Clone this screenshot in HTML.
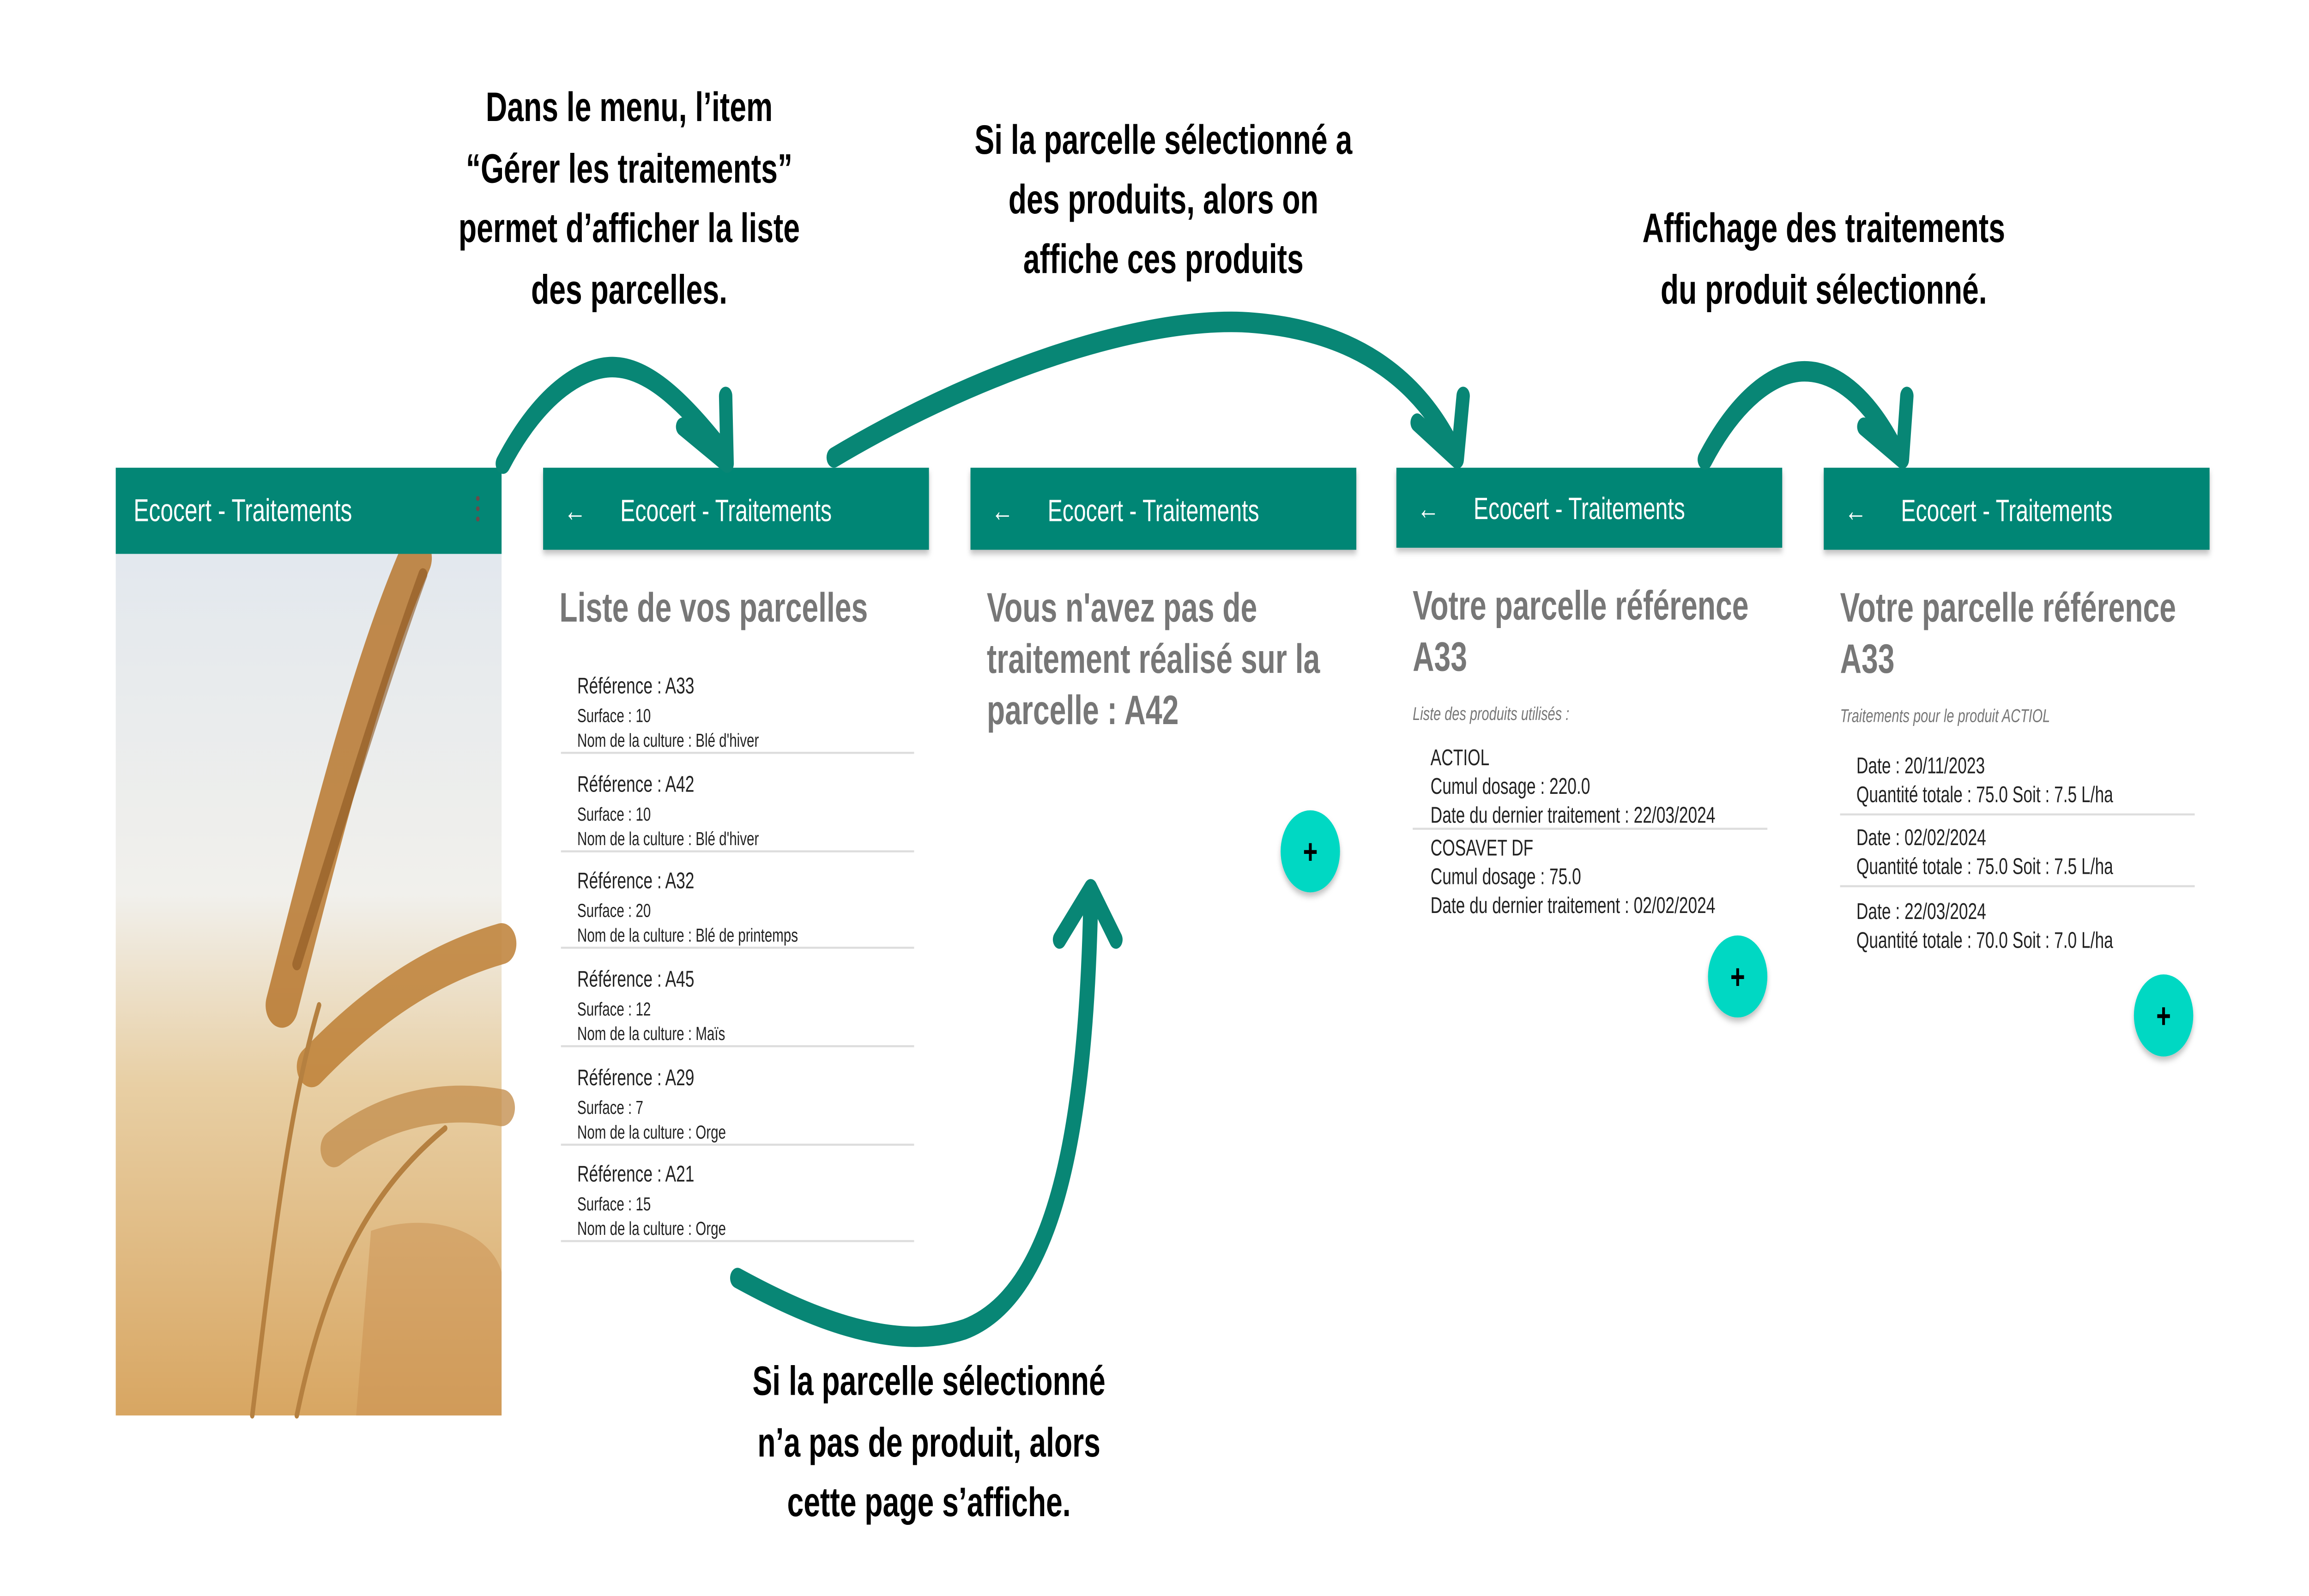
<!DOCTYPE html>
<html><head><meta charset="utf-8"><style>
html,body{margin:0;padding:0;background:#fff;width:100%;height:100%;overflow:hidden;}
svg{display:block;position:absolute;left:0;top:0;width:100vw;height:100vh}
text{font-family:"Liberation Sans",sans-serif;}
.lab{font-weight:bold;font-size:20px;fill:#000;text-anchor:middle}
.hd{fill:#fff;font-size:15px}
.ttl{fill:#777;font-weight:bold;font-size:20px}
.it{fill:#222;font-size:11px}
.sm{fill:#222;font-size:9.2px}
.arr{fill:none;stroke:#088675;stroke-linecap:round;stroke-linejoin:round}
</style></head><body>
<svg viewBox="0 0 1556 778" preserveAspectRatio="none" xmlns="http://www.w3.org/2000/svg">
<defs>
<linearGradient id="sky" x1="0" y1="0" x2="0" y2="1">
<stop offset="0" stop-color="#dfe6ee"/><stop offset="0.45" stop-color="#f1f0ec"/><stop offset="0.65" stop-color="#e8cfa4"/><stop offset="1" stop-color="#d8a662"/>
</linearGradient>
<filter id="sh" x="-20%" y="-20%" width="140%" height="160%"><feDropShadow dx="0" dy="2" stdDeviation="1.5" flood-opacity="0.25"/></filter>
</defs>
<!-- Screen 1 -->
<rect x="78" y="228" width="260" height="462" fill="url(#sky)"/>
<g stroke-linecap="round">
<path d="M190 490 C215 420 245 330 280 272" stroke="#b7772e" stroke-width="22" fill="none" opacity="0.85"/>
<path d="M200 470 C230 400 260 330 285 280" stroke="#8a5520" stroke-width="6" fill="none" opacity="0.6"/>
<path d="M210 520 C250 490 290 470 338 460" stroke="#bd7f35" stroke-width="20" fill="none" opacity="0.85"/>
<path d="M225 560 C260 540 300 535 338 540" stroke="#c49050" stroke-width="18" fill="none" opacity="0.8"/>
<path d="M170 690 C185 600 195 540 215 490" stroke="#b58040" stroke-width="3" fill="none"/>
<path d="M200 690 C220 620 250 580 300 550" stroke="#b58040" stroke-width="3" fill="none"/>
<path d="M250 600 C290 590 330 600 338 620 L338 690 L240 690 Z" fill="#c99050" opacity="0.5"/>
</g>
<rect x="78" y="228" width="260" height="42" fill="#038675"/>
<text x="90" y="254" class="hd" style="font-size:15.5px">Ecocert - Traitements</text>
<circle cx="322" cy="243" r="1.2" fill="#6a4a4a"/><circle cx="322" cy="248" r="1.2" fill="#6a4a4a"/><circle cx="322" cy="253" r="1.2" fill="#6a4a4a"/>

<!-- Screen 2 -->
<rect x="366" y="228" width="260" height="40" fill="#038675" filter="url(#sh)"/>
<text x="380" y="254" class="hd">←</text>
<text x="418" y="254" class="hd">Ecocert - Traitements</text>
<text x="377" y="303" class="ttl">Liste de vos parcelles</text>
<g>
<text x="389" y="338" class="it">Référence : A33</text><text x="389" y="352" class="sm">Surface : 10</text><text x="389" y="364" class="sm">Nom de la culture : Blé d'hiver</text>
<line x1="378" y1="367" x2="616" y2="367" stroke="#ddd"/>
<text x="389" y="386" class="it">Référence : A42</text><text x="389" y="400" class="sm">Surface : 10</text><text x="389" y="412" class="sm">Nom de la culture : Blé d'hiver</text>
<line x1="378" y1="415" x2="616" y2="415" stroke="#ddd"/>
<text x="389" y="433" class="it">Référence : A32</text><text x="389" y="447" class="sm">Surface : 20</text><text x="389" y="459" class="sm">Nom de la culture : Blé de printemps</text>
<line x1="378" y1="462" x2="616" y2="462" stroke="#ddd"/>
<text x="389" y="481" class="it">Référence : A45</text><text x="389" y="495" class="sm">Surface : 12</text><text x="389" y="507" class="sm">Nom de la culture : Maïs</text>
<line x1="378" y1="510" x2="616" y2="510" stroke="#ddd"/>
<text x="389" y="529" class="it">Référence : A29</text><text x="389" y="543" class="sm">Surface : 7</text><text x="389" y="555" class="sm">Nom de la culture : Orge</text>
<line x1="378" y1="558" x2="616" y2="558" stroke="#ddd"/>
<text x="389" y="576" class="it">Référence : A21</text><text x="389" y="590" class="sm">Surface : 15</text><text x="389" y="602" class="sm">Nom de la culture : Orge</text>
<line x1="378" y1="605" x2="616" y2="605" stroke="#ddd"/>
</g>

<!-- Screen 3 -->
<rect x="654" y="228" width="260" height="40" fill="#038675" filter="url(#sh)"/>
<text x="668" y="254" class="hd">←</text>
<text x="706" y="254" class="hd">Ecocert - Traitements</text>
<text x="665" y="303" class="ttl">Vous n'avez pas de</text>
<text x="665" y="328" class="ttl">traitement réalisé sur la</text>
<text x="665" y="353" class="ttl">parcelle :  A42</text>
<circle cx="883" cy="415" r="20" fill="#03d8c3" filter="url(#sh)"/>
<text x="883" y="421" text-anchor="middle" font-weight="bold" font-size="17" fill="#000">+</text>

<!-- Screen 4 -->
<rect x="941" y="228" width="260" height="39" fill="#038675" filter="url(#sh)"/>
<text x="955" y="253" class="hd">←</text>
<text x="993" y="253" class="hd">Ecocert - Traitements</text>
<text x="952" y="302" class="ttl">Votre parcelle référence</text>
<text x="952" y="327" class="ttl">A33</text>
<text x="952" y="351" font-size="9" font-style="italic" fill="#777">Liste des produits utilisés :</text>
<text x="964" y="373" class="it">ACTIOL</text>
<text x="964" y="387" class="it">Cumul dosage : 220.0</text>
<text x="964" y="401" class="it">Date du dernier traitement : 22/03/2024</text>
<line x1="952" y1="404" x2="1191" y2="404" stroke="#ddd"/>
<text x="964" y="417" class="it">COSAVET DF</text>
<text x="964" y="431" class="it">Cumul dosage : 75.0</text>
<text x="964" y="445" class="it">Date du dernier traitement : 02/02/2024</text>
<circle cx="1171" cy="476" r="20" fill="#03d8c3" filter="url(#sh)"/>
<text x="1171" y="482" text-anchor="middle" font-weight="bold" font-size="17" fill="#000">+</text>

<!-- Screen 5 -->
<rect x="1229" y="228" width="260" height="40" fill="#038675" filter="url(#sh)"/>
<text x="1243" y="254" class="hd">←</text>
<text x="1281" y="254" class="hd">Ecocert - Traitements</text>
<text x="1240" y="303" class="ttl">Votre parcelle référence</text>
<text x="1240" y="328" class="ttl">A33</text>
<text x="1240" y="352" font-size="9" font-style="italic" fill="#777">Traitements pour le produit ACTIOL</text>
<text x="1251" y="377" class="it">Date : 20/11/2023</text>
<text x="1251" y="391" class="it">Quantité totale : 75.0 Soit : 7.5 L/ha</text>
<line x1="1240" y1="397" x2="1479" y2="397" stroke="#ddd"/>
<text x="1251" y="412" class="it">Date : 02/02/2024</text>
<text x="1251" y="426" class="it">Quantité totale : 75.0 Soit : 7.5 L/ha</text>
<line x1="1240" y1="432" x2="1479" y2="432" stroke="#ddd"/>
<text x="1251" y="448" class="it">Date : 22/03/2024</text>
<text x="1251" y="462" class="it">Quantité totale : 70.0 Soit : 7.0 L/ha</text>
<circle cx="1458" cy="495" r="20" fill="#03d8c3" filter="url(#sh)"/>
<text x="1458" y="501" text-anchor="middle" font-weight="bold" font-size="17" fill="#000">+</text>

<!-- Arrows -->
<path class="arr" stroke-width="10" d="M339 226 C365 190 395 178 415 179 C440 180 465 200 485 218"/>
<polyline class="arr" stroke-width="9" points="460,208 490,226 489,193"/>
<path class="arr" stroke-width="10" d="M562 223 C650 185 760 155 837 157 C920 160 960 190 980 220"/>
<polyline class="arr" stroke-width="9" points="955,206 982,224 986,193"/>
<path class="arr" stroke-width="10" d="M1149 224 C1170 195 1195 181 1216 181 C1240 181 1262 197 1278 220"/>
<polyline class="arr" stroke-width="9" points="1256,208 1282,224 1285,193"/>
<path class="arr" stroke-width="10" d="M497 623 C540 640 600 660 650 648 C715 630 732 540 735 440"/>
<polyline class="arr" stroke-width="9" points="714,458 735,433 752,458"/>

<!-- Labels -->
<text class="lab" x="424" y="59">Dans le menu, l’item</text>
<text class="lab" x="424" y="89">“Gérer les traitements”</text>
<text class="lab" x="424" y="118">permet d’afficher la liste</text>
<text class="lab" x="424" y="148">des parcelles.</text>
<text class="lab" x="784" y="75">Si la parcelle sélectionné a</text>
<text class="lab" x="784" y="104">des produits, alors on</text>
<text class="lab" x="784" y="133">affiche ces produits</text>
<text class="lab" x="1229" y="118">Affichage des traitements</text>
<text class="lab" x="1229" y="148">du produit sélectionné.</text>
<text class="lab" x="626" y="680">Si la parcelle sélectionné</text>
<text class="lab" x="626" y="710">n’a pas de produit, alors</text>
<text class="lab" x="626" y="739">cette page s’affiche.</text>
</svg>
</body></html>
